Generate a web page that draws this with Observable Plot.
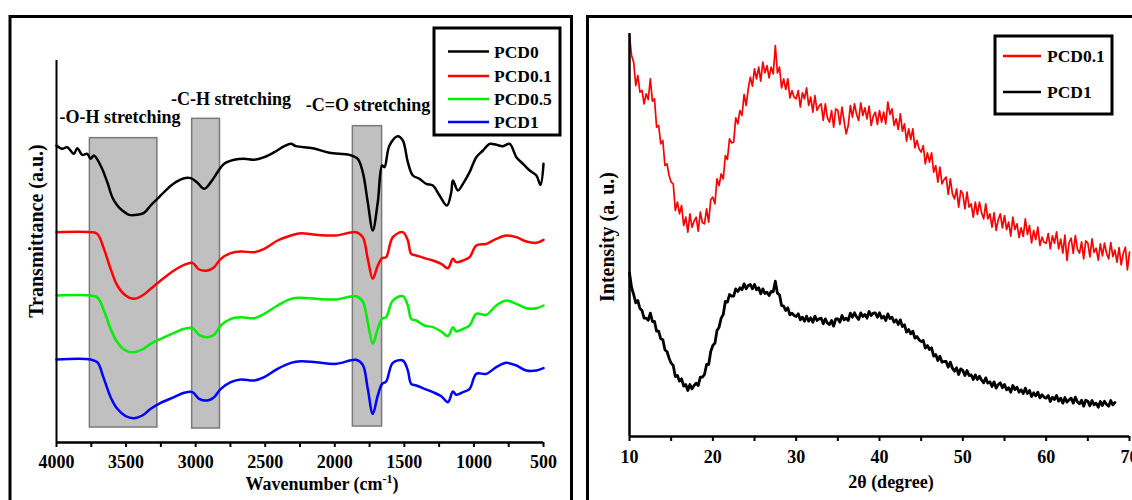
<!DOCTYPE html>
<html><head><meta charset="utf-8">
<script src="https://cdn.jsdelivr.net/npm/d3@7"></script>
<script src="https://cdn.jsdelivr.net/npm/@observablehq/plot@0.6"></script>
<style>
body{margin:0;background:#fff;}
#wrap{position:relative;width:1132px;height:500px;overflow:hidden;background:#fff;}
#left{position:absolute;left:0;top:0;}
#right{position:absolute;left:586px;top:0;}
#overlay{position:absolute;left:0;top:0;font-family:"Liberation Serif","Times New Roman",serif;font-weight:bold;}
</style></head><body>
<div id="wrap"><div id="left"></div><div id="right"></div><svg id="overlay" width="1132" height="500"></svg></div>
<script>
// ---------- FTIR (left panel) ----------
const ftirWave0 = [4000,3959,3923,3875,3851,3815,3779,3755,3731,3683,3635,3599,3563,3527,3479,3419,3371,3323,3275,3203,3143,3083,3035,2987,2939,2891,2843,2795,2723,2651,2579,2507,2435,2363,2315,2279,2159,2039,1895,1835,1799,1763,1727,1691,1660,1643,1607,1547,1511,1475,1439,1391,1343,1295,1247,1194,1163,1151,1115,1079,1031,983,935,887,839,791,743,695,647,599,551,522,500];
const ftirPCD0 = [94,93,93.5,91.5,93.2,91.2,91.5,90,91,88,83,78.5,76,74.5,73.2,73.2,73.8,76,78,81,83,84.2,84.2,82.8,81,83,86,88.5,89.7,90,89.7,90.5,92,93.8,94.5,93.8,93.2,91.8,91.2,90,86,77,68.5,77,88,87.5,94,96.8,95.5,89,85,84,82.5,82,79,76,80,83.5,80.5,82.5,86,90.5,92.5,94.5,94.2,93.8,94.5,90.5,88.5,86.5,85,82.2,88.5];
const ftirWave = [4000,3755,3707,3659,3611,3563,3503,3443,3383,3323,3251,3155,3083,3023,2975,2915,2867,2819,2747,2675,2579,2507,2411,2315,2243,2135,1991,1847,1799,1763,1727,1691,1660,1631,1583,1511,1475,1451,1415,1355,1295,1235,1187,1151,1127,1079,1031,983,911,839,767,695,623,551,500];
const ftirPCD01 = [68,68,67.5,63,57,52,49,48,49,51,53.5,56.5,58.2,58.8,56.8,56.5,57.5,60,61.7,62.2,62,63,65.5,67,67.7,67.2,67,68,66.5,60,54,58,60.2,60.5,66.5,68,65.5,61.5,61,60.2,59.5,58.5,57.2,60,59,59.5,60.5,64,64.5,66,67,66.5,65.2,64.8,65.7];
const ftirPCD05 = [49,49,48.5,44.5,39,35,32.5,32,32.8,34.5,36,37.8,39,39.2,37.2,36.5,37.2,40,42,42.5,42.2,43.5,46,48,48.3,48,47.8,48.8,47.2,41,34.5,39,42,42.5,47.5,48.8,46,42,41.5,40,39.5,38.2,36.8,39.5,38.2,39,40,43.5,43.2,46,47.5,46.5,45.2,45.2,46];
const ftirPCD1 = [29.8,29.8,29,24,18.5,15,12.8,12.2,13,15,16.8,18.5,19.8,20,18,17.5,18.5,21,23,23.8,23.5,24.5,27,28.8,29.3,29,28.5,29.7,28.2,21,13.5,19,22.5,23.2,28.8,29.5,26.5,22.5,22,21,20,18.8,17,20.2,19.2,20,21,25.5,25.5,27.5,28.8,28,26.5,26.5,27.2];
const ftirMajorTicks = [4000,3500,3000,2500,2000,1500,1000,500];
const ftirMinorTicks = [3750,3250,2750,2250,1750,1250,750];
const bandLabels = ["-O-H stretching","-C-H stretching","-C=O stretching"];
const bandFrom = [3760,3025,1870];
const bandTo = [3275,2825,1660];
const bandTop = [96.2,102,99.8];
const bandBottom = [9.4,9.1,9.7];
const ftirNames = ["PCD0","PCD0.1","PCD0.5","PCD1"];
const ftirColors = ["#000000","#ff0000","#00ee00","#0000ff"];

// ---------- XRD (right panel) ----------
const xrdAngle = [
 10,10.25,10.5,10.75,11,11.25,11.5,11.75,12,12.25,12.5,12.75,13,13.25,13.5,13.75,14,14.25,14.5,14.75,
 15,15.25,15.5,15.75,16,16.25,16.5,16.75,17,17.25,17.5,17.75,18,18.25,18.5,18.75,19,19.25,19.5,19.75,
 20,20.25,20.5,20.75,21,21.25,21.5,21.75,22,22.25,22.5,22.75,23,23.25,23.5,23.75,24,24.25,24.5,24.75,
 25,25.25,25.5,25.75,26,26.25,26.5,26.75,27,27.25,27.5,27.75,28,28.25,28.5,28.75,29,29.25,29.5,29.75,
 30,30.25,30.5,30.75,31,31.25,31.5,31.75,32,32.25,32.5,32.75,33,33.25,33.5,33.75,34,34.25,34.5,34.75,
 35,35.25,35.5,35.75,36,36.25,36.5,36.75,37,37.25,37.5,37.75,38,38.25,38.5,38.75,39,39.25,39.5,39.75,
 40,40.25,40.5,40.75,41,41.25,41.5,41.75,42,42.25,42.5,42.75,43,43.25,43.5,43.75,44,44.25,44.5,44.75,
 45,45.25,45.5,45.75,46,46.25,46.5,46.75,47,47.25,47.5,47.75,48,48.25,48.5,48.75,49,49.25,49.5,49.75,
 50,50.25,50.5,50.75,51,51.25,51.5,51.75,52,52.25,52.5,52.75,53,53.25,53.5,53.75,54,54.25,54.5,54.75,
 55,55.25,55.5,55.75,56,56.25,56.5,56.75,57,57.25,57.5,57.75,58,58.25,58.5,58.75,59,59.25,59.5,59.75,
 60,60.25,60.5,60.75,61,61.25,61.5,61.75,62,62.25,62.5,62.75,63,63.25,63.5,63.75,64,64.25,64.5,64.75,
 65,65.25,65.5,65.75,66,66.25,66.5,66.75,67,67.25,67.5,67.75,68,68.25,68.5,68.75,69,69.25,69.5,69.75,
 70];
const xrdPCD01 = [
 127,121,119,112,115,110,110.5,106.5,109.5,107.8,114,107.3,108,99.5,100,94.5,95.5,88,88.5,85,
 83,82.5,74.5,77,73.5,76,70,72.5,68,73.5,69.5,71.3,72.5,68.3,74,70.8,70.5,75,71,77.8,
 78.5,76.5,84,82,85.5,84,91,89.8,96,94.8,95,102.3,100.5,104.5,103,109.3,106,111,114.5,111.8,
 117,114,117.5,113.3,119,115.8,118,114.3,117.5,115.5,124,115.8,117.5,111.3,114,110.8,114,108.3,110.5,108.5,
 108,110.5,105.5,109.8,108,111.3,106,108.5,104,109,104.5,105.8,106.5,101.5,106.5,102.3,101,104.5,99.5,105,
 104.5,100.3,105.5,101.3,97.5,100,106,102.5,106.5,103.3,101.5,106.8,103,105.3,102,105.8,100,102.8,104,100.3,
 104.5,101,104,100.5,107,103.3,105,100,102,98.8,103.5,98.3,100.5,95.3,99,95.8,99,93.3,95.5,93,
 92,94,88.5,91.8,89,91.8,86,88,83,87.5,82.5,83.8,84.5,79.3,84,79.5,78,81,75.5,80.5,
 79.5,75,80,75.5,76.5,72.5,77,73.3,77,73.8,72,76.5,72,73.5,69.5,73.8,68.5,71.8,73.5,69.3,
 73,68.8,71,66.8,72.5,68.8,70.5,66.4,69.3,66.7,72,67.3,70,64.8,68.5,65.8,69.5,64,66.5,64.9,
 64.7,67.6,63,66.9,64.7,68.1,63,65.9,61.7,67.1,59.5,64.9,66.2,61.6,67,62.9,61.7,65.1,60,65.4,
 64.7,60.6,66,61.9,63.2,59.6,64.5,60.9,64.7,61.6,60,64.9,60.7,62.6,59,63.4,58.2,61.6,63.5,56.7,
 62];
const xrdPCD1 = [
 55.8,51.4,49.3,46.8,47.5,45.1,44.5,42.2,42.2,41.6,43.7,41.2,41.2,38.3,38.3,36,35.8,32.7,32.2,30.2,
 28.7,28,24.7,25,23.3,24,21.8,22.3,20.5,22.3,21,22,22.7,22,24.5,24.5,25.3,28.3,28.3,32.2,
 34,34.7,38.5,39.5,42.2,43.3,47.2,47,49.3,48.8,48.8,51,50.2,51.3,50.7,52.5,51,52,52.3,51,
 52.3,50.7,51.3,49.5,51,49.6,50,49,50.2,50.1,53.3,49.7,49.2,46,45.8,44.5,45.3,43.2,43.7,43,
 42.7,43.5,41.7,42.5,41.3,42.8,41.3,42.3,41,42.8,41.5,42,42.2,40.5,42,40.7,40.3,41.5,39.8,42,
 42,41,43,41.7,42.2,41.5,43.7,42.5,43.8,42.6,41.8,43.8,42.7,43.3,42.2,44.2,43,43.7,43.8,42.5,
 43.8,42.2,42.8,41.5,43.5,42.1,42.5,41,41.7,40.3,41.7,39.7,40.2,38,38.8,37.5,38.3,36.2,36.7,35.7,
 35.2,35.5,33.2,34,32.8,33.3,30.8,31.3,29.5,30.8,29,29.2,29.2,27.5,29,27.2,26.3,27.3,25.3,27,
 26.5,25,26.5,25,25.2,23.8,25.2,23.8,24.8,23.6,22.8,24.3,22.7,23.1,21.7,23.1,21.2,22.3,22.8,21.3,
 22.3,20.7,21.3,20,22,20.8,21.5,20,20.7,19.6,21.2,19.6,20.5,18.7,19.8,18.9,20,18.3,19.2,18.5,
 18.2,19,17.2,18.5,17.8,19,17.3,18.2,16.7,18.4,17,17.7,18.2,16.7,18.5,17.1,16.5,17.6,15.8,17.6,
 17.3,15.9,17.5,16.2,16.7,15.5,17.2,16,17.3,16.3,15.8,17.5,16.2,16.9];
const xrdMajorTicks = [10,20,30,40,50,60,70];
const xrdMinorTicks = [15,25,35,45,55,65];
const xrdNames = ["PCD0.1","PCD1"];
const xrdColors = ["#ff0000","#000000"];

// ---------- build tables ----------
const bands = bandFrom.map((f,i)=>({x1:f,x2:bandTo[i],y1:bandBottom[i],y2:bandTop[i]}));
const ftirSeries = [
  ftirWave0.map((w,i)=>({w,t:ftirPCD0[i]})),
  ftirWave.map((w,i)=>({w,t:ftirPCD01[i]})),
  ftirWave.map((w,i)=>({w,t:ftirPCD05[i]})),
  ftirWave.map((w,i)=>({w,t:ftirPCD1[i]}))
];
const xrdRed = xrdPCD01.map((v,i)=>({a:xrdAngle[i],v}));
const xrdBlack = xrdPCD1.map((v,i)=>({a:xrdAngle[i],v}));

const font = {fontFamily:'"Liberation Serif","Times New Roman",serif',fontSize:"18px",fontWeight:"bold",color:"#000",background:"transparent",overflow:"visible"};

const leftPlot = Plot.plot({
  width:572,height:500,marginLeft:56,marginRight:29,marginTop:60,marginBottom:58,
  x:{domain:[4000,500],axis:null},
  y:{domain:[4.9,119.5],axis:null},
  style:font,
  marks:[
    Plot.rect(bands,{x1:"x1",x2:"x2",y1:"y1",y2:"y2",fill:"#c0c0c0",stroke:"#7a7a7a",strokeWidth:1.5}),
    ...ftirSeries.map((s,i)=>Plot.line(s,{x:"w",y:"t",stroke:ftirColors[i],strokeWidth:2.5,curve:"catmull-rom"})),
    Plot.ruleX([4000],{strokeWidth:2}),
    Plot.ruleY([4.9],{strokeWidth:2.5}),
    Plot.axisX({ticks:ftirMajorTicks,tickSize:5,tickPadding:8,tickFormat:d=>String(d),label:null,strokeWidth:2}),
    Plot.axisX({ticks:ftirMinorTicks,tickSize:5,tickFormat:()=>"",label:null,strokeWidth:2})
  ]
});
document.getElementById("left").appendChild(leftPlot);

const rightPlot = Plot.plot({
  width:546,height:500,marginLeft:43,marginRight:3,marginTop:33,marginBottom:64,
  x:{domain:[10,70],axis:null},
  y:{domain:[6.7,127.6],axis:null},
  style:font,
  marks:[
    Plot.line(xrdRed,{x:"a",y:"v",stroke:xrdColors[0],strokeWidth:1.7}),
    Plot.line(xrdBlack,{x:"a",y:"v",stroke:xrdColors[1],strokeWidth:2.8}),
    Plot.ruleX([10],{strokeWidth:2.5}),
    Plot.ruleY([6.7],{strokeWidth:2.5}),
    Plot.axisX({ticks:xrdMajorTicks,tickSize:5,tickPadding:9,tickFormat:d=>String(d),label:null,strokeWidth:2}),
    Plot.axisX({ticks:xrdMinorTicks,tickSize:5,tickFormat:()=>"",label:null,strokeWidth:2})
  ]
});
document.getElementById("right").appendChild(rightPlot);

// ---------- overlay: frames, titles, annotations, legends ----------
const ov = d3.select("#overlay");
ov.append("rect").attr("x",10).attr("y",16.5).attr("width",561.5).attr("height",520).attr("fill","none").attr("stroke","#000").attr("stroke-width",3);
ov.append("rect").attr("x",587.5).attr("y",16.5).attr("width",600).attr("height",520).attr("fill","none").attr("stroke","#000").attr("stroke-width",3);

const annX = [120,231,368], annY = [123,105,111];
bandLabels.forEach((t,i)=>ov.append("text").attr("x",annX[i]).attr("y",annY[i]).attr("text-anchor","middle").attr("font-size",18).text(t));

const wn = ov.append("text").attr("x",322).attr("y",490).attr("text-anchor","middle").attr("font-size",18);
wn.append("tspan").text("Wavenumber (cm");
wn.append("tspan").attr("font-size",12).attr("dy",-7).text("-1");
wn.append("tspan").attr("dy",7).text(")");

ov.append("text").attr("transform","translate(43,231) rotate(-90)").attr("text-anchor","middle").attr("font-size",20).text("Transmittance (a.u.)");
ov.append("text").attr("transform","translate(614,237) rotate(-90)").attr("text-anchor","middle").attr("font-size",20).text("Intensity (a. u.)");
ov.append("text").attr("x",891).attr("y",488).attr("text-anchor","middle").attr("font-size",18).text("2θ (degree)");

// left legend
ov.append("rect").attr("x",434).attr("y",28).attr("width",126).attr("height",107).attr("fill","#fff").attr("stroke","#000").attr("stroke-width",3);
const legY = [51.5,76,99,122];
ftirNames.forEach((n,i)=>{
  ov.append("line").attr("x1",448).attr("x2",489).attr("y1",legY[i]).attr("y2",legY[i]).attr("stroke",ftirColors[i]).attr("stroke-width",2.5);
  ov.append("text").attr("x",494).attr("y",legY[i]+6).attr("font-size",17.5).text(n);
});
// right legend
ov.append("rect").attr("x",995).attr("y",36).attr("width",117).attr("height",78).attr("fill","#fff").attr("stroke","#000").attr("stroke-width",3);
const legY2 = [56,92];
xrdNames.forEach((n,i)=>{
  ov.append("line").attr("x1",1003).attr("x2",1041).attr("y1",legY2[i]).attr("y2",legY2[i]).attr("stroke",xrdColors[i]).attr("stroke-width",2.5);
  ov.append("text").attr("x",1047).attr("y",legY2[i]+6).attr("font-size",17.5).text(n);
});
</script>
</body></html>
